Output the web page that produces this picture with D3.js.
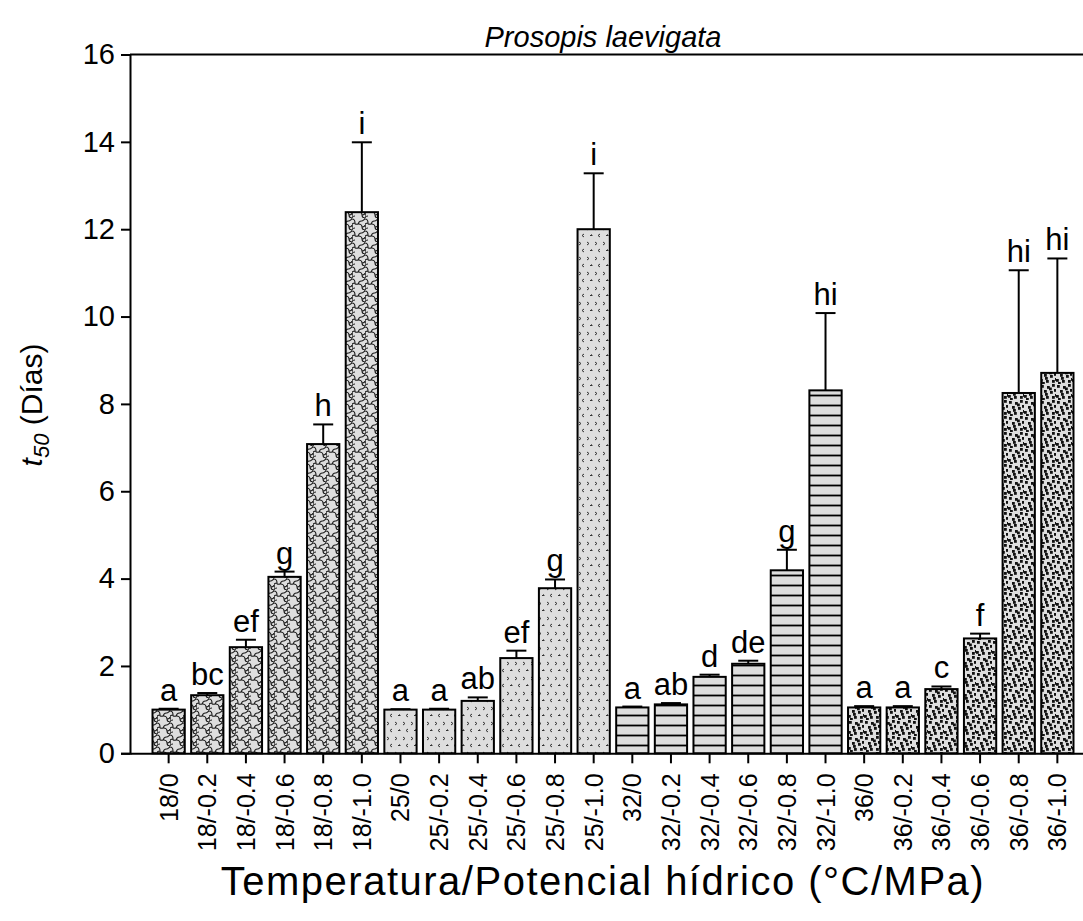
<!DOCTYPE html>
<html>
<head>
<meta charset="utf-8">
<script src="https://cdn.jsdelivr.net/npm/d3@7"></script>
<style>
  html, body { margin: 0; padding: 0; background: #fff; }
  svg { display: block; font-family: "Liberation Sans", Arial, sans-serif; }
</style>
</head>
<body>
<svg id="chart" width="1083" height="921"></svg>
<script>
// ---- data ----
const categories = ["18/0","18/-0.2","18/-0.4","18/-0.6","18/-0.8","18/-1.0",
                    "25/0","25/-0.2","25/-0.4","25/-0.6","25/-0.8","25/-1.0",
                    "32/0","32/-0.2","32/-0.4","32/-0.6","32/-0.8","32/-1.0",
                    "36/0","36/-0.2","36/-0.4","36/-0.6","36/-0.8","36/-1.0"];
const groups = ["18","25","32","36"];
const means  = [1.00, 1.33, 2.43, 4.04, 7.08, 12.39,
                1.00, 1.00, 1.20, 2.18, 3.78, 12.00,
                1.05, 1.12, 1.75, 2.05, 4.19, 8.31,
                1.05, 1.05, 1.47, 2.63, 8.25, 8.71];
const errors = [0.02, 0.05, 0.17, 0.12, 0.45, 1.60,
                0.01, 0.02, 0.08, 0.17, 0.20, 1.28,
                0.02, 0.03, 0.05, 0.07, 0.47, 1.77,
                0.03, 0.03, 0.06, 0.11, 2.81, 2.62];
const letters = ["a","bc","ef","g","h","i",
                 "a","a","ab","ef","g","i",
                 "a","ab","d","de","g","hi",
                 "a","a","c","f","hi","hi"];
const yTicks = [0, 2, 4, 6, 8, 10, 12, 14, 16];
const title = "Prosopis laevigata";
const xTitle = "Temperatura/Potencial hídrico (°C/MPa)";

const data = categories.map((c, i) => ({
  cat: c, group: c.split("/")[0], mean: means[i], err: errors[i], letter: letters[i]
}));

// ---- layout ----
const svg = d3.select("#chart");
const mLeft = 130, mRight = 1096, mTop = 54.5, mBottom = 753.3;
const FONT = "Liberation Sans, Arial, sans-serif";

const x = d3.scaleBand().domain(categories).range([mLeft, mRight])
  .paddingInner(0.165).paddingOuter(0.5825);
const y = d3.scaleLinear().domain([0, 16]).range([mBottom, mTop]);

// ---- patterns ----
const defs = svg.append("defs");
const bg = "#dedede";

// group 18: interlocking wave / scale pattern
{
  const p = defs.append("pattern").attr("id", "pat18")
    .attr("patternUnits", "userSpaceOnUse").attr("width", 13).attr("height", 12)
    .attr("x", 1).attr("y", 2);
  p.append("rect").attr("width", 13).attr("height", 12).attr("fill", bg);
  p.append("path")
    .attr("d", "M0,1 C2,1 3,3 3,5 C3,7 5,6 6.5,6 C8,6 10,7 10,9 C10,11 11.5,12 13,12" +
               " M6.5,6 C6.5,4 8,3 9.5,3 C11,3 13,1 13,0" +
               " M0,7 C1,8 0,10 -1,12 M3,5 C1,5 0,6 0,7")
    .attr("fill", "none").attr("stroke", "#1a1a1a").attr("stroke-width", 1.1);
  p.append("path")
    .attr("d", "M10,9 C12,9 13,8 13,7 M0,12 C0,11 1.5,10 3,10")
    .attr("fill", "none").attr("stroke", "#1a1a1a").attr("stroke-width", 1.1);
}
// group 25: sparse small chevrons
{
  const p = defs.append("pattern").attr("id", "pat25")
    .attr("patternUnits", "userSpaceOnUse").attr("width", 16).attr("height", 15)
    .attr("x", 1).attr("y", 0);
  p.append("rect").attr("width", 16).attr("height", 15).attr("fill", bg);
  p.append("path")
    .attr("d", "M2,2 l2,1.5 l-2,1.5 M10,2 l2,1.5 l-2,1.5 M7,9 l-2,1.5 l2,1.5 M15,9.5 l-1.5,1 M13,10.5 l2.5,0")
    .attr("fill", "none").attr("stroke", "#333").attr("stroke-width", 1);
}
// group 32: horizontal lines
{
  const p = defs.append("pattern").attr("id", "pat32")
    .attr("patternUnits", "userSpaceOnUse").attr("width", 10).attr("height", 10)
    .attr("x", 0).attr("y", 0);
  p.append("rect").attr("width", 10).attr("height", 10).attr("fill", bg);
  p.append("line").attr("x1", 0).attr("x2", 10).attr("y1", 5.5).attr("y2", 5.5)
    .attr("stroke", "#000").attr("stroke-width", 1.8);
}
// group 36: dense black squares
{
  const p = defs.append("pattern").attr("id", "pat36")
    .attr("patternUnits", "userSpaceOnUse").attr("width", 16).attr("height", 16)
    .attr("x", 0).attr("y", 0);
  p.append("rect").attr("width", 16).attr("height", 16).attr("fill", bg);
  const sq = [[1,1],[7,2],[12,0],[4,6],[10,7],[14,5],[0,11],[6,12],[12,12],[9,3.5],[2,14],[15,10],[5,9]];
  sq.forEach(([a, b]) => p.append("rect").attr("x", a).attr("y", b)
    .attr("width", 2.8).attr("height", 2.8).attr("fill", "#111"));
}
const patId = {"18": "url(#pat18)", "25": "url(#pat25)", "32": "url(#pat32)", "36": "url(#pat36)"};

// ---- error bars (drawn first, behind bars) ----
const cap = 20;
const eb = svg.append("g").attr("stroke", "#000").attr("stroke-width", 2);
eb.selectAll(".ev").data(data).join("line").attr("class", "ev")
  .attr("x1", d => x(d.cat) + x.bandwidth() / 2)
  .attr("x2", d => x(d.cat) + x.bandwidth() / 2)
  .attr("y1", d => y(d.mean)).attr("y2", d => y(d.mean + d.err));
eb.selectAll(".ec").data(data).join("line").attr("class", "ec")
  .attr("x1", d => x(d.cat) + x.bandwidth() / 2 - cap / 2)
  .attr("x2", d => x(d.cat) + x.bandwidth() / 2 + cap / 2)
  .attr("y1", d => y(d.mean + d.err)).attr("y2", d => y(d.mean + d.err));

// ---- bars ----
svg.append("g").selectAll("rect").data(data).join("rect")
  .attr("x", d => x(d.cat)).attr("width", x.bandwidth())
  .attr("y", d => y(d.mean)).attr("height", d => y(0) - y(d.mean))
  .attr("fill", d => patId[d.group])
  .attr("stroke", "#000").attr("stroke-width", 2);

// ---- letters ----
svg.append("g").selectAll("text").data(data).join("text")
  .attr("x", d => x(d.cat) + x.bandwidth() / 2)
  .attr("y", d => y(d.mean + d.err) - 8)
  .attr("text-anchor", "middle").attr("font-size", 31).attr("font-family", FONT).attr("fill", "#000")
  .text(d => d.letter);

// ---- axes ----
const yAxis = d3.axisLeft(y).tickValues(yTicks).tickSize(9).tickPadding(6).tickFormat(d3.format("d"));
const gy = svg.append("g").attr("transform", `translate(${mLeft},0)`).call(yAxis);
gy.select(".domain").attr("stroke-width", 2);
gy.selectAll(".tick line").attr("stroke-width", 2);
gy.selectAll(".tick text").attr("font-size", 29).attr("font-family", FONT).attr("fill", "#000");

const xAxis = d3.axisBottom(x).tickSize(10).tickSizeOuter(0);
const gx = svg.append("g").attr("transform", `translate(0,${mBottom})`).call(xAxis);
gx.select(".domain").attr("stroke-width", 2);
gx.selectAll(".tick line").attr("stroke-width", 2);
gx.selectAll(".tick text")
  .attr("font-size", 25).attr("font-family", FONT).attr("fill", "#000")
  .attr("transform", "rotate(-90)")
  .attr("text-anchor", "end")
  .attr("x", -20).attr("y", 0).attr("dy", "0.36em");

// top frame line
svg.append("line").attr("x1", mLeft).attr("x2", mRight).attr("y1", y(16)).attr("y2", y(16))
  .attr("stroke", "#000").attr("stroke-width", 2);

// ---- titles ----
svg.append("text").attr("x", 603).attr("y", 47).attr("text-anchor", "middle")
  .attr("font-size", 29).attr("font-family", FONT).attr("font-style", "italic").text(title);

const yl = svg.append("text").attr("transform", "translate(42,405) rotate(-90)")
  .attr("text-anchor", "middle").attr("font-size", 30).attr("font-family", FONT);
yl.append("tspan").attr("font-style", "italic").text("t");
yl.append("tspan").attr("font-style", "italic").attr("font-size", 22).attr("dy", 7).text("50");
yl.append("tspan").attr("dy", -7).text(" (Días)");

svg.append("text").attr("x", 603).attr("y", 895).attr("text-anchor", "middle")
  .attr("font-size", 40).attr("letter-spacing", 1.5).attr("font-family", FONT).text(xTitle);
</script>
</body>
</html>
